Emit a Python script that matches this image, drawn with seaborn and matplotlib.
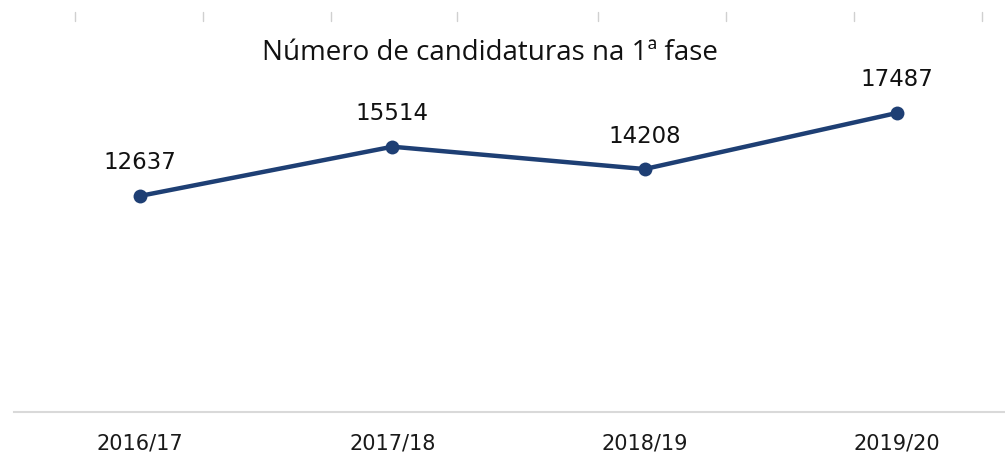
import matplotlib
matplotlib.use("Agg")
import matplotlib.pyplot as plt
import seaborn as sns
import pandas as pd
from matplotlib.lines import Line2D

# Data
years = ["2016/17", "2017/18", "2018/19", "2019/20"]
candidaturas = [12637, 15514, 14208, 17487]
title = "Número de candidaturas na 1ª fase"

sns.set_theme(style="white")
plt.rcParams["font.family"] = ["DejaVu Sans"]

W, H = 1005, 456
fig = plt.figure(figsize=(W / 100, H / 100), dpi=100)
left_px, right_px, bottom_px, top_px = 14, 1005, 413, 71
ax = fig.add_axes([left_px / W, 1 - bottom_px / H, (right_px - left_px) / W, (bottom_px - top_px) / H])

df = pd.DataFrame({"ano": years, "n": candidaturas})
df["pos"] = range(len(df))
color = "#1e3f74"
sns.lineplot(data=df, x="pos", y="n", ax=ax, color=color, linewidth=3.2,
             marker="o", markersize=10, markeredgewidth=0, markerfacecolor=color)

for x, v in zip(df["pos"], df["n"]):
    ax.annotate(f"{v}", (x, v), xytext=(0, 24.5), textcoords="offset points",
                ha="center", va="center", fontsize=16.5, color="#111111")

ax.set_xlim(-0.5, (right_px - 140) / 252.3)
ax.set_ylim(0, 20000)
ax.set_xticks(df["pos"])
ax.set_xticklabels(years, fontsize=15, color="#1a1a1a")
ax.set_yticks([])
ax.set_xlabel("")
ax.set_ylabel("")
ax.tick_params(axis="x", length=0, pad=15)
for s in ["top", "left", "right"]:
    ax.spines[s].set_visible(False)
ax.spines["bottom"].set_color("#d9d9d9")
ax.spines["bottom"].set_linewidth(1.5)

fig.text(490 / W, 1 - 53 / H, title, ha="center", va="center", fontsize=20, color="#111111",
         family=["Open Sans", "DejaVu Sans"])

# small decorative top ticks
for xp in [75, 203, 331, 457, 598, 726, 854, 982]:
    fig.add_artist(Line2D([xp / W, xp / W], [1 - 13 / H, 1 - 22 / H], color="#d0d0d0", linewidth=1))

fig.savefig("out.png", dpi=100)
